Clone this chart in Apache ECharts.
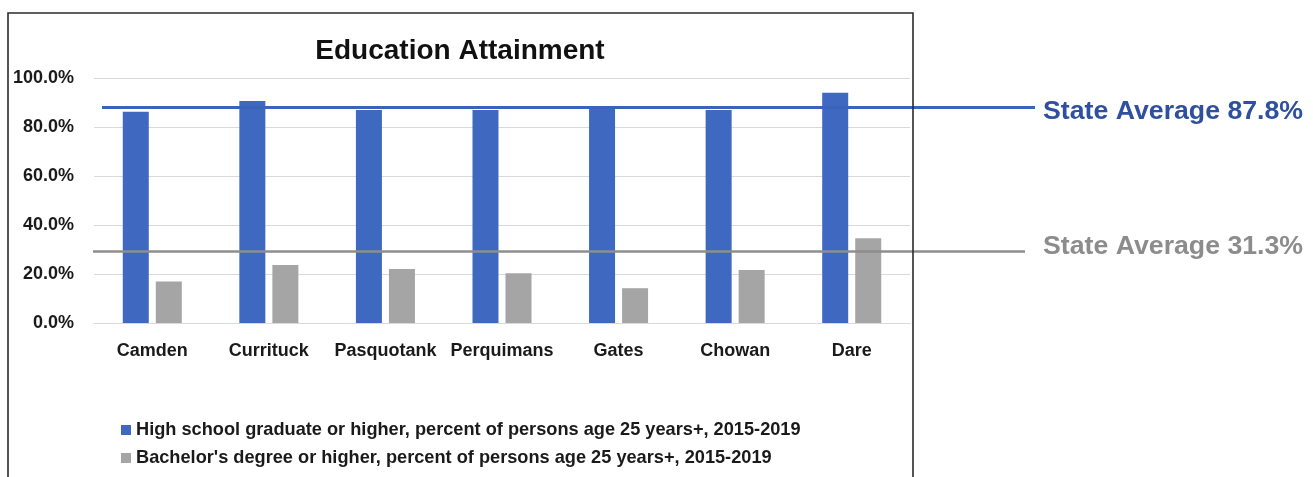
<!DOCTYPE html>
<html>
<head>
<meta charset="utf-8">
<script src="https://cdn.jsdelivr.net/npm/echarts@6/dist/echarts.min.js"></script>
<style>
html,body{margin:0;padding:0;background:#fff;}
#chart{width:1313px;height:477px;}
</style>
</head>
<body>
<div id="chart"></div>
<script>
const categories = ['Camden', 'Currituck', 'Pasquotank', 'Perquimans', 'Gates', 'Chowan', 'Dare'];
const highSchool = [86.2, 90.6, 86.9, 86.9, 88.3, 86.9, 94.0];
const bachelors = [16.9, 23.7, 22.0, 20.3, 14.2, 21.6, 34.6];
const seriesNames = [
  'High school graduate or higher, percent of persons age 25 years+, 2015-2019',
  "Bachelor's degree or higher, percent of persons age 25 years+, 2015-2019"
];
const yTicks = [0, 20, 40, 60, 80, 100];
const stateAvgLinePos = [88.2, 29.4];
const stateAvgText = ['State Average 87.8%', 'State Average 31.3%'];

const FONT = '"Liberation Sans", Arial, sans-serif';
const chart = echarts.init(document.getElementById('chart'));
chart.setOption({
  backgroundColor: '#ffffff',
  animation: false,
  textStyle: { fontFamily: FONT },
  title: {
    text: 'Education Attainment',
    left: 455, top: 32, textAlign: 'center',
    textStyle: { fontFamily: FONT, fontSize: 28, fontWeight: 'bold', color: '#111' }
  },
  graphic: [{
    type: 'rect', silent: true, z: 100,
    shape: { x: 8, y: 13, width: 905, height: 490 },
    style: { fill: 'none', stroke: '#2b2b2b', lineWidth: 1.6 }
  }],
  legend: {
    orient: 'vertical', left: 116, top: 416,
    itemWidth: 10, itemHeight: 10, itemGap: 10,
    icon: 'rect',
    textStyle: { fontFamily: FONT, fontSize: 18.2, fontWeight: 'bold', color: '#1a1a1a' },
    data: seriesNames
  },
  grid: { left: 94, right: 403, top: 78, bottom: 154, containLabel: false },
  xAxis: {
    type: 'category', data: categories,
    axisLine: { show: true, lineStyle: { color: '#d9d9d9' } },
    axisTick: { show: false },
    axisLabel: { interval: 0, fontFamily: FONT, fontSize: 18, fontWeight: 'bold', color: '#1a1a1a', margin: 19 }
  },
  yAxis: {
    type: 'value', min: yTicks[0], max: yTicks[yTicks.length - 1], interval: 20,
    axisLine: { show: false }, axisTick: { show: false },
    splitLine: { lineStyle: { color: '#d9d9d9', width: 1 } },
    axisLabel: {
      fontFamily: FONT, fontSize: 18, fontWeight: 'bold', color: '#1a1a1a', margin: 20,
      formatter: v => v.toFixed(1) + '%'
    }
  },
  series: [
    {
      name: seriesNames[0], type: 'bar', data: highSchool,
      barWidth: 26, barGap: '27%',
      itemStyle: { color: '#3f68c0' },
      markLine: {
        silent: true, symbol: ['none', 'none'], z: 10,
        lineStyle: { color: '#3a63bc', width: 3, type: 'solid' },
        label: {
          show: true, position: 'end', distance: 8,
          formatter: () => '{t|' + stateAvgText[0] + '}',
          rich: { t: { fontFamily: FONT, fontSize: 26.7, fontWeight: 'bold', color: '#2f509f', padding: [10, 0, 0, 0] } }
        },
        data: [[{ x: 102, yAxis: stateAvgLinePos[0] }, { x: 1035, yAxis: stateAvgLinePos[0] }]]
      }
    },
    {
      name: seriesNames[1], type: 'bar', data: bachelors,
      barWidth: 26, barGap: '27%',
      itemStyle: { color: '#a5a5a5' },
      markLine: {
        silent: true, symbol: ['none', 'none'], z: 10,
        lineStyle: { color: '#8e8e8e', width: 2.5, type: 'solid' },
        label: {
          show: true, position: 'end', distance: 18,
          formatter: () => '{t|' + stateAvgText[1] + '}',
          rich: { t: { fontFamily: FONT, fontSize: 26.7, fontWeight: 'bold', color: '#8c8c8c', padding: [0, 0, 8, 0] } }
        },
        data: [[{ x: 93, yAxis: stateAvgLinePos[1] }, { x: 1025, yAxis: stateAvgLinePos[1] }]]
      }
    }
  ]
});
</script>
</body>
</html>
